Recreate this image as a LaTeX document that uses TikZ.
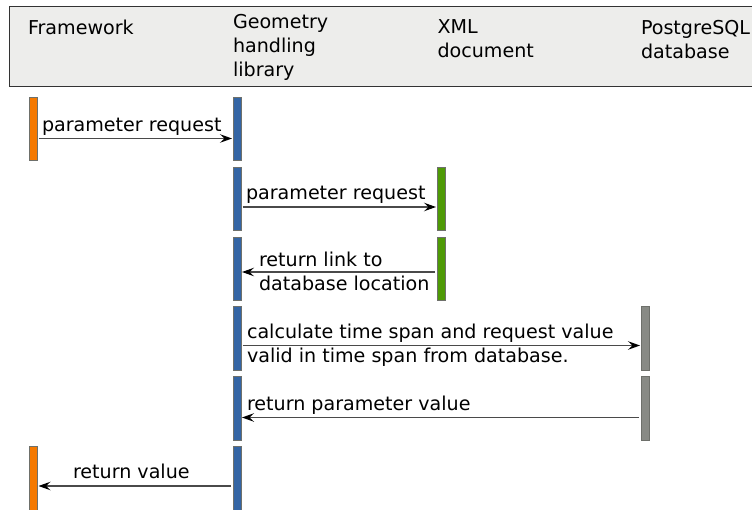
\documentclass[tikz,border=0pt]{standalone}
\usepackage{fontspec}
\setmainfont{DejaVu Sans}
\usetikzlibrary{arrows.meta}
\definecolor{fwc}{HTML}{F57900}
\definecolor{geoc}{HTML}{3465A4}
\definecolor{xmlc}{HTML}{4E9A06}
\definecolor{pgc}{HTML}{888A85}
\definecolor{barline}{HTML}{6E706B}
\definecolor{hdrfill}{HTML}{EDEDEB}
\definecolor{hdrline}{HTML}{333333}
\definecolor{msgline}{HTML}{4A4A4A}
\begin{document}
\begin{tikzpicture}[x=1pt,y=-1pt,
  every node/.style={font=\fontsize{19.1}{24}\selectfont, inner sep=0pt, outer sep=0pt},
  bar/.style={draw=barline, line width=1pt, minimum width=8pt, minimum height=63.5pt, inner sep=0pt, outer sep=0pt, anchor=north west},
  msg/.style={draw=msgline, line width=1.2pt, -{Stealth[length=12pt,width=8.5pt,inset=4.5pt,fill=black,color=black]}},
  lbl/.style={anchor=base west, align=left}]
\useasboundingbox (0,0) rectangle (752,510);
\path[draw=hdrline, fill=hdrfill, line width=1pt] (9,7) rectangle (762,87);
% header labels
\node[lbl] (h1) at (28,34.5) {Framework};
\node[anchor=north west, align=left] (h2) at (233,14.5) {Geometry\\handling\\library};
\node[anchor=north west, align=left] (h3) at (437.5,20) {XML\\document};
\node[anchor=north west, align=left] (h4) at (641,20) {PostgreSQL\\database};
% activation bars
\node[bar, fill=fwc] (fw1) at (29.5,97.5) {};
\node[bar, fill=fwc, minimum height=65pt] (fw2) at (29.5,446.5) {};
\node[bar, fill=geoc] (g1) at (233.5,97.5) {};
\node[bar, fill=geoc] (g2) at (233.5,167.5) {};
\node[bar, fill=geoc] (g3) at (233.5,237.5) {};
\node[bar, fill=geoc] (g4) at (233.5,307) {};
\node[bar, fill=geoc] (g5) at (233.5,376.5) {};
\node[bar, fill=geoc, minimum height=65pt] (g6) at (233.5,446.5) {};
\node[bar, fill=xmlc] (x1) at (437.5,167.5) {};
\node[bar, fill=xmlc] (x2) at (437.5,237.5) {};
\node[bar, fill=pgc] (p1) at (641.5,307) {};
\node[bar, fill=pgc] (p2) at (641.5,376.5) {};
% messages
\draw[msg, shorten <=1pt, shorten >=1.5pt] (fw1.east |- 0,138.5) -- (g1.west |- 0,138.5);
\node[lbl] (l1) at (42,132) {parameter request};
\draw[msg, shorten <=1pt, shorten >=1.5pt] (g2.east |- 0,207) -- (x1.west |- 0,207);
\node[lbl] (l2) at (246,200) {parameter request};
\draw[msg, shorten <=2.5pt, shorten >=0.5pt] (x2.west |- 0,272) -- (g3.east |- 0,272);
\node[anchor=west, align=left] (l3) at (259,271.5) {return link to\\database location};
\draw[msg, shorten <=1pt, shorten >=1.5pt] (g4.east |- 0,345.5) -- (p1.west |- 0,345.5);
\node[anchor=west, align=left] (l4) at (247,345.5) {calculate time span and request value\\valid in time span from database.};
\draw[msg, shorten <=2.5pt, shorten >=0.5pt] (p2.west |- 0,417.5) -- (g5.east |- 0,417.5);
\node[lbl] (l5) at (247,410.5) {return parameter value};
\draw[msg, shorten <=2.5pt, shorten >=1pt] (g6.west |- 0,486) -- (fw2.east |- 0,486);
\node[lbl] (l6) at (73,478) {return value};
\end{tikzpicture}
\end{document}
